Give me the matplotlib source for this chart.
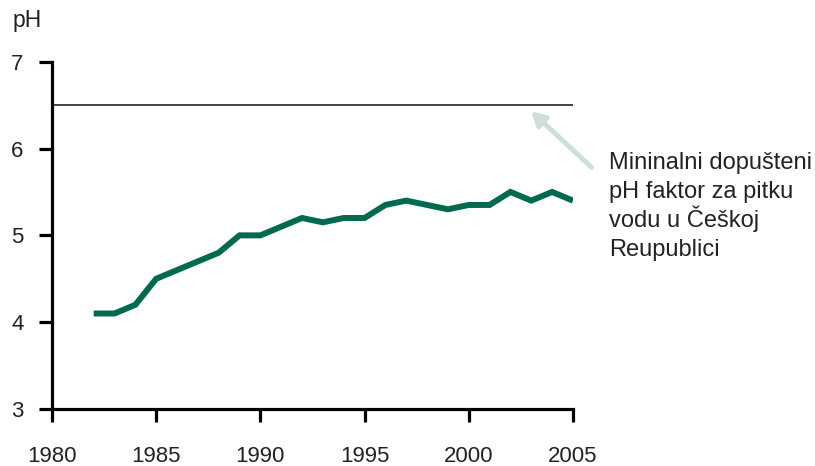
import matplotlib
matplotlib.use("Agg")
import matplotlib.pyplot as plt

plt.rcParams['font.family'] = ['Liberation Sans', 'DejaVu Sans']

years = [1982, 1983, 1984, 1985, 1986, 1987, 1988, 1989, 1990, 1991, 1992,
         1993, 1994, 1995, 1996, 1997, 1998, 1999, 2000, 2001, 2002, 2003,
         2004, 2005]
ph = [4.1, 4.1, 4.2, 4.5, 4.6, 4.7, 4.8, 5.0, 5.0, 5.1, 5.2,
      5.15, 5.2, 5.2, 5.35, 5.4, 5.35, 5.3, 5.35, 5.35, 5.5, 5.4,
      5.5, 5.4]
limit = 6.5
xticks = [1980, 1985, 1990, 1995, 2000, 2005]
yticks = [3, 4, 5, 6, 7]
note_lines = ["Mininalni dopušteni", "pH faktor za pitku", "vodu u Češkoj", "Reupublici"]

fig = plt.figure(figsize=(8.15, 4.66), dpi=100)
ax = fig.add_axes([0.0638, 0.1223, 0.703 - 0.0638, 0.8676 - 0.1223])

ax.plot(years, ph, color='#006a4e', lw=4.3, solid_joinstyle='miter', solid_capstyle='butt')
ax.plot([1980, 2005], [limit, limit], color='#333333', lw=1.3)

ax.set_xlim(1980, 2005)
ax.set_ylim(3, 7)
ax.set_xticks(xticks)
ax.set_yticks(yticks)
for s in ['top', 'right']:
    ax.spines[s].set_visible(False)
for s in ['left', 'bottom']:
    ax.spines[s].set_linewidth(2.3)
ax.tick_params(axis='both', width=2.3, length=9.5, labelsize=16, colors='black', labelcolor='#222222')
ax.tick_params(axis='x', pad=17)
ax.tick_params(axis='y', pad=11)

fig.text(0.015, 1 - 20 / 466, "pH", fontsize=16.5, color='#222222', va='center', ha='left')

ax.annotate("", xy=(2002.9, 6.45), xytext=(2006.0, 5.76),
            arrowprops=dict(arrowstyle='-|>,head_length=0.8,head_width=0.45',
                            color='#cddfdb', lw=3.5),
            annotation_clip=False)

baselines = [169, 198, 227, 256]
for line, b in zip(note_lines, baselines):
    fig.text(609 / 815, 1 - b / 466, line, fontsize=17, color='#222222',
             va='baseline', ha='left')

fig.savefig("out.png", dpi=100)
